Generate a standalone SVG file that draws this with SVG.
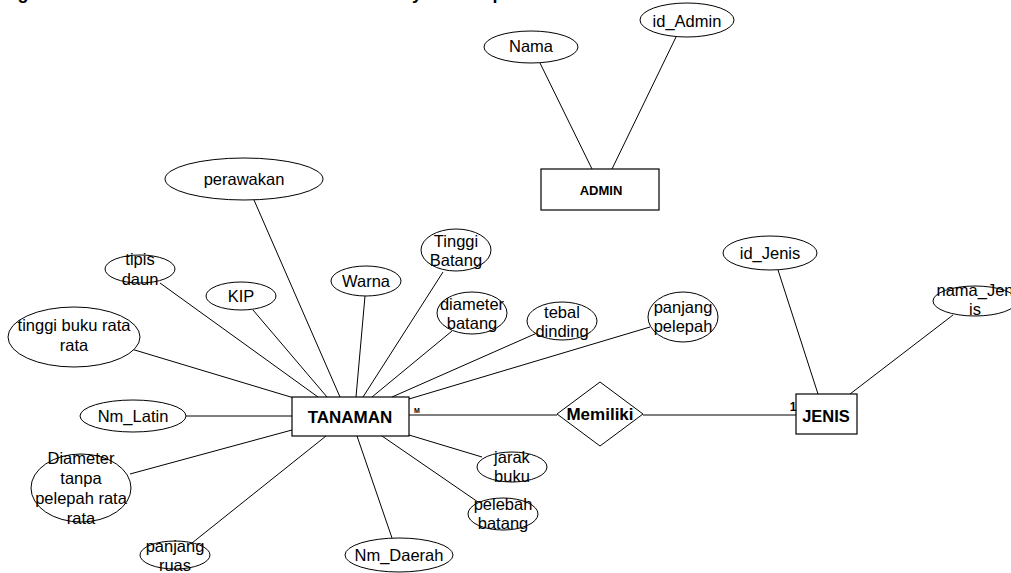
<svg xmlns="http://www.w3.org/2000/svg" width="1011" height="573" viewBox="0 0 1011 573">
<style>
.bg{fill:#fff}
.e{fill:#fff;stroke:#000;stroke-width:1}
.r{fill:#fff;stroke:#000;stroke-width:1.2}
.c line{stroke:#000;stroke-width:1}
.t{font-family:"Liberation Sans",Arial,sans-serif;font-size:16.5px;fill:#000;text-anchor:middle}
.b{font-family:"Liberation Sans",Arial,sans-serif;font-weight:bold;fill:#000;text-anchor:middle}
</style>
<rect class="bg" x="0" y="0" width="1011" height="573"/>
<g id="cut-title" class="b" style="font-size:18px">
<text x="23" y="-1">g</text>
<text x="417" y="-1">y</text>
<text x="498" y="-1">p</text>
</g>
<g id="connectors" class="c">
<line x1="540" y1="63" x2="592" y2="169"/>
<line x1="676" y1="37" x2="612" y2="169"/>
<line x1="254" y1="200" x2="340" y2="397"/>
<line x1="160" y1="283" x2="318" y2="397"/>
<line x1="253" y1="310" x2="327" y2="397"/>
<line x1="365" y1="296" x2="356" y2="397"/>
<line x1="443" y1="272" x2="363" y2="397"/>
<line x1="452" y1="331" x2="372" y2="397"/>
<line x1="537" y1="333" x2="392" y2="397"/>
<line x1="650" y1="327" x2="409" y2="399"/>
<line x1="128" y1="348" x2="294" y2="398"/>
<line x1="186" y1="416" x2="292" y2="416"/>
<line x1="130" y1="474" x2="292" y2="430"/>
<line x1="192" y1="543" x2="326" y2="436"/>
<line x1="392" y1="538" x2="357" y2="436"/>
<line x1="482" y1="457" x2="409" y2="435"/>
<line x1="478" y1="502" x2="382" y2="436"/>
<line x1="409" y1="415" x2="557" y2="415"/>
<line x1="643" y1="415" x2="796" y2="415"/>
<line x1="778" y1="270" x2="818" y2="394"/>
<line x1="953" y1="315" x2="850" y2="394"/>
</g>
<g id="admin"><rect class="r" x="541" y="169" width="118" height="41"/><text class="b" x="601" y="195" style="font-size:13px">ADMIN</text></g>
<g id="nama"><ellipse class="e" cx="531" cy="47" rx="47" ry="16"/><text class="t" x="531" y="52">Nama</text></g>
<g id="id_admin"><ellipse class="e" cx="687" cy="20" rx="47" ry="17"/><text class="t" x="687" y="27">id_Admin</text></g>
<g id="tanaman"><rect class="r" x="292" y="397" width="117" height="39"/><text class="b" x="350" y="423" style="font-size:17px">TANAMAN</text><text class="b" x="417" y="413" style="font-size:7px">M</text></g>
<g id="perawakan"><ellipse class="e" cx="244" cy="179" rx="79" ry="21"/><text class="t" x="244" y="185">perawakan</text></g>
<g id="tipis_daun"><ellipse class="e" cx="140" cy="269" rx="35" ry="14"/><text class="t" x="140" y="265">tipis</text><text class="t" x="140" y="285">daun</text></g>
<g id="kip"><ellipse class="e" cx="241" cy="296" rx="35" ry="14"/><text class="t" x="241" y="302">KIP</text></g>
<g id="warna"><ellipse class="e" cx="366" cy="281" rx="35" ry="15"/><text class="t" x="366" y="287">Warna</text></g>
<g id="tinggi_batang"><ellipse class="e" cx="456" cy="250" rx="35" ry="21"/><text class="t" x="456" y="247">Tinggi</text><text class="t" x="456" y="266">Batang</text></g>
<g id="diameter_batang"><ellipse class="e" cx="472" cy="313" rx="35" ry="21"/><text class="t" x="472" y="310">diameter</text><text class="t" x="472" y="329">batang</text></g>
<g id="tebal_dinding"><ellipse class="e" cx="562" cy="321" rx="35" ry="19"/><text class="t" x="562" y="318">tebal</text><text class="t" x="562" y="337">dinding</text></g>
<g id="panjang_pelepah"><ellipse class="e" cx="683" cy="317" rx="35" ry="25"/><text class="t" x="683" y="313">panjang</text><text class="t" x="683" y="332">pelepah</text></g>
<g id="tinggi_buku"><ellipse class="e" cx="74" cy="337" rx="66" ry="30"/><text class="t" x="74" y="331">tinggi buku rata</text><text class="t" x="74" y="351">rata</text></g>
<g id="nm_latin"><ellipse class="e" cx="133" cy="416" rx="53" ry="16"/><text class="t" x="133" y="422">Nm_Latin</text></g>
<g id="diameter_tanpa"><ellipse class="e" cx="81" cy="488" rx="50" ry="34"/><text class="t" x="81" y="464">Diameter</text><text class="t" x="81" y="484">tanpa</text><text class="t" x="81" y="504">pelepah rata</text><text class="t" x="81" y="524">rata</text></g>
<g id="panjang_ruas"><ellipse class="e" cx="175" cy="555" rx="35" ry="14"/><text class="t" x="175" y="552">panjang</text><text class="t" x="175" y="571">ruas</text></g>
<g id="nm_daerah"><ellipse class="e" cx="399" cy="555" rx="54" ry="17"/><text class="t" x="399" y="561">Nm_Daerah</text></g>
<g id="jarak_buku"><ellipse class="e" cx="512" cy="467" rx="35" ry="15"/><text class="t" x="512" y="463">jarak</text><text class="t" x="512" y="482">buku</text></g>
<g id="pelebah_batang"><ellipse class="e" cx="503" cy="514" rx="35" ry="16"/><text class="t" x="503" y="510">pelebah</text><text class="t" x="503" y="529">batang</text></g>
<g id="memiliki"><polygon class="e" points="600,382 643,414 600,446 557,414"/><text class="b" x="600" y="420" style="font-size:17px">Memiliki</text></g>
<g id="jenis"><rect class="r" x="796" y="394" width="61" height="40"/><text class="b" x="826" y="422" style="font-size:16.5px">JENIS</text><text class="b" x="793" y="411" style="font-size:12px">1</text></g>
<g id="id_jenis"><ellipse class="e" cx="770" cy="253" rx="47" ry="17"/><text class="t" x="770" y="259">id_Jenis</text></g>
<g id="nama_jenis"><ellipse class="e" cx="975" cy="301" rx="42" ry="15"/><text class="t" x="975" y="296">nama_Jen</text><text class="t" x="975" y="315">is</text></g>
</svg>
